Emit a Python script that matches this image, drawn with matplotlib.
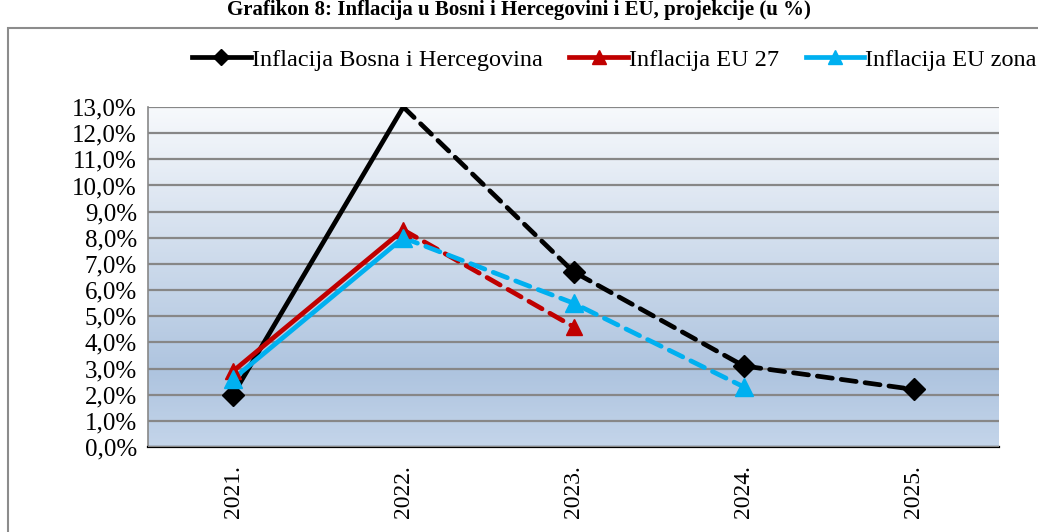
import numpy as np
import matplotlib.pyplot as plt
from matplotlib.colors import LinearSegmentedColormap
from matplotlib.lines import Line2D
from matplotlib.patches import Rectangle

years = ['2021.', '2022.', '2023.', '2024.', '2025.']
bih = [2.0, 13.0, 6.7, 3.1, 2.2]
eu27 = [2.9, 8.3, 4.6]
euzona = [2.6, 8.0, 5.5, 2.3]
yticks = np.arange(0, 14, 1)

plt.rcParams['font.family'] = ['Liberation Serif', 'DejaVu Serif']

fig = plt.figure(figsize=(10.38, 5.32), dpi=100)
ax = fig.add_axes([148/1038, 1-447/532, (999-148)/1038, (447-107)/532])

# gradient background
cmap = LinearSegmentedColormap.from_list(
    'bg', [(0.0, '#c4d5ea'), (0.22, '#aec4df'), (1.0, '#f7f9fc')])
grad = np.linspace(0, 1, 256).reshape(-1, 1)
ax.imshow(grad, cmap=cmap, origin='lower', aspect='auto',
          extent=(-0.5, 4.5, 0, 13), zorder=0)

x = np.arange(len(years))
lw = 3.4
dash = (3.2, 1.9)

def draw(vals, color, marker, ms, skip=()):
    n = len(vals)
    xs = x[:n]
    ax.plot(xs[:2], vals[:2], color=color, lw=lw, solid_capstyle='round', zorder=3)
    ax.plot(xs[1:], vals[1:], color=color, lw=lw, dashes=dash,
            dash_capstyle='round', zorder=3)
    keep = [i for i in range(n) if i not in skip]
    ax.plot(xs[keep], np.array(vals)[keep], ls='none', marker=marker,
            ms=ms, color=color, zorder=4)

draw(bih, 'black', 'D', 11, skip=(1,))
draw(eu27, '#c00000', '^', 12)
draw(euzona, '#00b0f0', '^', 13)

ax.set_xlim(-0.5, 4.5)
ax.set_ylim(0, 13)
ax.set_yticks(yticks)
ax.set_yticklabels([f'{v:.1f}%'.replace('.', ',') for v in yticks], fontsize=18)
ax.set_xticks(x)
ax.set_xticklabels(years, rotation=90, fontsize=17)
ax.tick_params(axis='both', length=0)
ax.tick_params(axis='x', pad=13)
ax.tick_params(axis='y', pad=8)
ax.grid(axis='y', color='#878787', lw=1.6, zorder=1)
ax.set_axisbelow(False)
for s in ['top', 'right']:
    ax.spines[s].set_visible(False)
ax.spines['left'].set_color('#888888')
ax.spines['left'].set_linewidth(1.2)
ax.spines['bottom'].set_color('black')
ax.spines['bottom'].set_linewidth(1.6)

handles = [
    Line2D([], [], color='black', lw=lw, marker='D', ms=8),
    Line2D([], [], color='#c00000', lw=lw, marker='^', ms=10),
    Line2D([], [], color='#00b0f0', lw=lw, marker='^', ms=10),
]
labels = ['Inflacija Bosna i Hercegovina', 'Inflacija EU 27', 'Inflacija EU zona']
fig.legend(handles, labels, loc='center', bbox_to_anchor=(0.592, 1-60/532),
           ncol=3, frameon=False, fontsize=17.5, handlelength=2.4,
           handletextpad=0.05, columnspacing=1.1)

# outer chart frame
fig.patches.append(Rectangle((8/1038, -0.05), 1.1, 1-28/532+0.05,
                             transform=fig.transFigure, fill=False,
                             edgecolor='#8c8c8c', lw=1.5))

fig.text(0.5, 1.0, 'Grafikon 8: Inflacija u Bosni i Hercegovini i EU, projekcije (u %)',
         ha='center', va='top', fontsize=15, fontweight='bold')

fig.savefig('out.png', dpi=100)
